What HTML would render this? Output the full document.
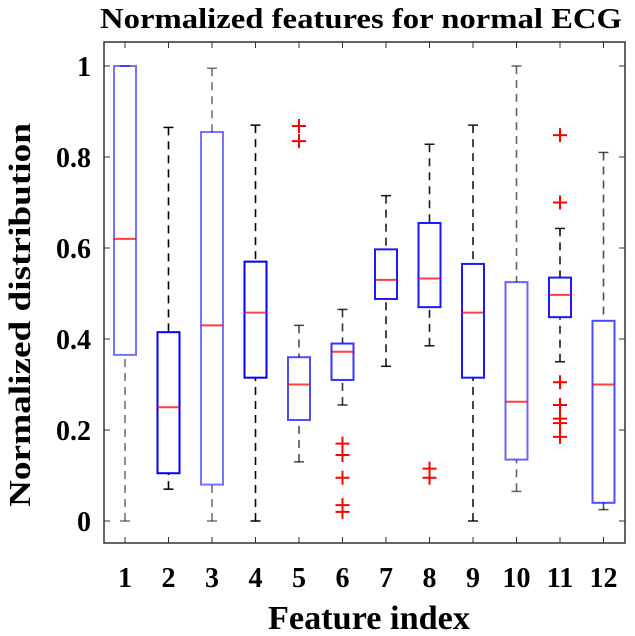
<!DOCTYPE html>
<html><head><style>
body{margin:0;background:#fff;}
svg text{font-family:"Liberation Serif",serif;font-weight:bold;fill:#000;}
</style></head><body>
<svg id="s" width="635" height="631" xmlns="http://www.w3.org/2000/svg">
<text x="100" y="28" font-size="29" textLength="522" lengthAdjust="spacingAndGlyphs">Normalized features for normal ECG</text>
<text x="268" y="629" font-size="34" textLength="202" lengthAdjust="spacingAndGlyphs">Feature index</text>
<text transform="translate(30,507) rotate(-90)" font-size="31" textLength="384" lengthAdjust="spacingAndGlyphs">Normalized distribution</text>
<rect x="104" y="42" width="521" height="501" fill="none" stroke="#333" stroke-width="1.5"/>
<g id="g"></g>
</svg>
<script>
var g=document.getElementById('g'),h='';
function Y(v){return 521-v*455;}
function X(i){return 125+(i-1)*43.5;}
for(var i=1;i<=12;i++){var x=X(i);h+='<line x1="'+x+'" y1="543" x2="'+x+'" y2="537" stroke="#333"/><line x1="'+x+'" y1="42" x2="'+x+'" y2="48" stroke="#333"/>';
h+='<text x="'+x+'" y="587" font-size="28" text-anchor="middle">'+i+'</text>';}
[0,0.2,0.4,0.6,0.8,1].forEach(function(v){var y=Y(v);h+='<line x1="104" y1="'+y+'" x2="110" y2="'+y+'" stroke="#333"/><line x1="625" y1="'+y+'" x2="619" y2="'+y+'" stroke="#333"/>';
h+='<text x="91" y="'+(y+10)+'" font-size="28" text-anchor="end">'+(v==0||v==1?v:v.toFixed(1))+'</text>';});
var d=[[0,1,0.365,1,0.62,[],0.55],[0.07,0.865,0.105,0.415,0.25,[],1],[0,0.995,0.08,0.855,0.43,[],0.55],[0,0.87,0.315,0.57,0.458,[],1],
[0.13,0.43,0.222,0.36,0.30,[0.835,0.868],0.7],[0.255,0.465,0.31,0.39,0.372,[0.17,0.145,0.095,0.035,0.02],0.8],[0.34,0.715,0.488,0.597,0.53,[],0.9],
[0.385,0.828,0.47,0.655,0.533,[0.115,0.095],0.9],[0,0.87,0.315,0.565,0.458,[],0.9],[0.065,1,0.135,0.525,0.262,[],0.6],
[0.35,0.643,0.448,0.535,0.497,[0.848,0.7,0.305,0.255,0.225,0.215,0.185],0.9],[0.025,0.81,0.04,0.44,0.30,[],0.7]];
d.forEach(function(a,k){var x=X(k+1),o=a[6];
h+='<line x1="'+x+'" y1="'+Y(a[0])+'" x2="'+x+'" y2="'+Y(a[2])+'" stroke="#000" stroke-opacity="'+o+'" stroke-width="1.6" stroke-dasharray="8,6"/>';
h+='<line x1="'+x+'" y1="'+Y(a[1])+'" x2="'+x+'" y2="'+Y(a[3])+'" stroke="#000" stroke-opacity="'+o+'" stroke-width="1.6" stroke-dasharray="8,6"/>';
[a[0],a[1]].forEach(function(v){h+='<line x1="'+(x-5)+'" y1="'+Y(v)+'" x2="'+(x+5)+'" y2="'+Y(v)+'" stroke="#000" stroke-opacity="'+o+'" stroke-width="1.5"/>';});
h+='<rect x="'+(x-11)+'" y="'+Y(a[3])+'" width="22" height="'+(Y(a[2])-Y(a[3]))+'" fill="none" stroke="#00f" stroke-opacity="'+o+'" stroke-width="2"/>';
h+='<line x1="'+(x-11)+'" y1="'+Y(a[4])+'" x2="'+(x+11)+'" y2="'+Y(a[4])+'" stroke="#f00" stroke-opacity="0.75" stroke-width="2"/>';
a[5].forEach(function(v){var y=Y(v);h+='<path d="M'+(x-7)+' '+y+'H'+(x+7)+'M'+x+' '+(y-7)+'V'+(y+7)+'" stroke="#f00" stroke-width="2"/>';});
});
g.innerHTML=h;
</script>
</body></html>
